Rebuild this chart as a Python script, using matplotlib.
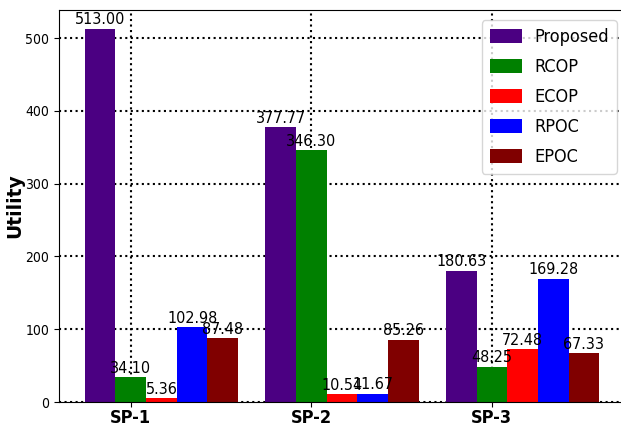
import numpy as np
import matplotlib
matplotlib.use("Agg")
import matplotlib.pyplot as plt

plt.rcParams['font.family'] = ['DejaVu Sans']
plt.rcParams['font.stretch'] = 'condensed'

# Data
groups = ["SP-1", "SP-2", "SP-3"]
methods = ["Proposed", "RCOP", "ECOP", "RPOC", "EPOC"]
proposed = [513.00, 377.77, 180.63]
rcop = [34.10, 346.30, 48.25]
ecop = [5.36, 10.54, 72.48]
rpoc = [102.98, 11.67, 169.28]
epoc = [87.48, 85.26, 67.33]
colors = ["indigo", "green", "red", "blue", "maroon"]

series = [proposed, rcop, ecop, rpoc, epoc]
x = np.arange(len(groups))
width = 0.17

fig = plt.figure(figsize=(6.21, 4.28), dpi=100)
ax = fig.add_axes([59 / 621, 26 / 428, 566 / 621, 392 / 428])

for i, (vals, name, c) in enumerate(zip(series, methods, colors)):
    bars = ax.bar(x + (i - 1) * width, vals, width, label=name, color=c, zorder=2)
    for b, v in zip(bars, vals):
        ax.text(b.get_x() + b.get_width() / 2, b.get_height() + 2, f"{v:.2f}",
                ha='center', va='bottom', fontsize=11.5, zorder=3)

ax.set_xticks(x)
ax.set_xticklabels(groups, fontsize=13, fontweight='bold')
ax.tick_params(axis='x', pad=1.5)
ax.set_ylabel("Utility", fontsize=13.5, fontweight='bold', fontstretch='normal')
ax.yaxis.set_label_coords(-0.062, 0.5)
ax.tick_params(axis='y', labelsize=10)
ax.grid(True, linestyle=':', color='black', linewidth=1.5, zorder=1)
ax.legend(loc='upper right', fontsize=13, bbox_to_anchor=(0.986, 0.974),
          borderaxespad=0, labelspacing=0.66, handlelength=1.77,
          handleheight=0.83, handletextpad=0.7, borderpad=0.45)

fig.savefig("out.png", dpi=100)
